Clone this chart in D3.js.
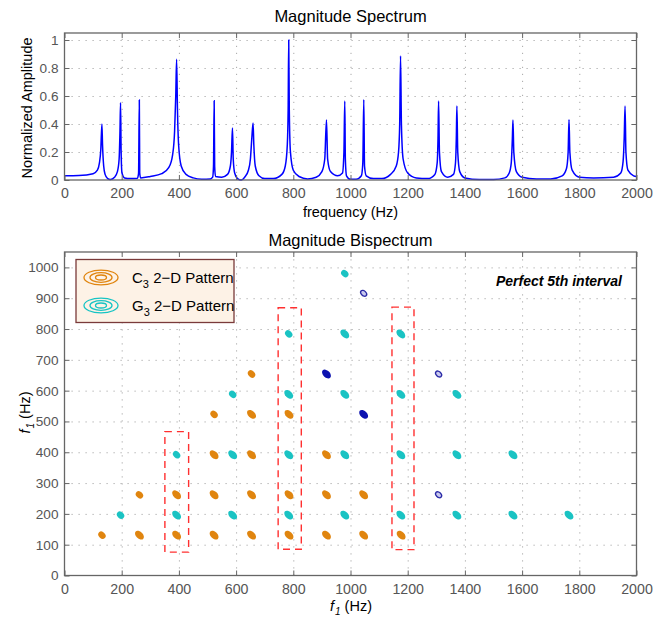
<!DOCTYPE html>
<html>
<head>
<meta charset="utf-8">
<script src="https://cdn.jsdelivr.net/npm/d3@7"></script>
<style>
  body { margin: 0; background: #fff; }
  svg { display: block; font-family: "Liberation Sans", Arial, sans-serif; }
  .grid line { stroke: #a8a8a8; stroke-dasharray: 1.2,5.8; }
  .grid path { display: none; }
  .frame path, .frame line { stroke: #666; }
</style>
</head>
<body>
<svg width="653" height="619"></svg>
<script>
// spectrum samples: [frequency Hz, normalized amplitude]
const spectrum = [
  [0, 0.03], [50, 0.032], [100, 0.045], [115, 0.07], [122, 0.12], [127, 0.22], [130.8, 0.40],
  [133, 0.25], [137, 0.1], [142, 0.04], [150, 0.012], [160, 0.003], [175, 0.02], [185, 0.06],
  [191, 0.15], [194, 0.35], [196, 0.552], [198, 0.2], [201, 0.05], [210, 0.015], [230, 0.01],
  [255, 0.012], [259, 0.05], [261.6, 0.571], [263, 0.05], [266, 0.015], [300, 0.025], [340, 0.045],
  [365, 0.09], [378, 0.18], [385, 0.35], [389, 0.6], [392, 0.862], [395, 0.5], [399, 0.25],
  [408, 0.1], [425, 0.04], [450, 0.015], [480, 0.005], [510, 0.008], [518, 0.02], [521, 0.1],
  [523.3, 0.566], [525, 0.1], [528, 0.025], [550, 0.02], [570, 0.04], [580, 0.1], [584, 0.2],
  [587.3, 0.371], [590, 0.15], [595, 0.05], [605, 0.01], [618, 0.0], [630, 0.02], [643, 0.07],
  [650, 0.15], [655, 0.3], [659.3, 0.407], [662, 0.25], [667, 0.1], [680, 0.03], [700, 0.01],
  [730, 0.01], [760, 0.04], [772, 0.1], [779, 0.25], [782, 0.5], [784, 1.0], [786, 0.5],
  [790, 0.2], [800, 0.07], [820, 0.025], [850, 0.008], [880, 0.02], [900, 0.06], [910, 0.15],
  [916, 0.429], [920, 0.15], [930, 0.06], [955, 0.03], [972, 0.05], [977, 0.2], [980, 0.564],
  [982, 0.15], [986, 0.03], [1000, 0.005], [1020, 0.005], [1038, 0.03], [1043, 0.12], [1046.5, 0.574],
  [1049, 0.1], [1055, 0.03], [1080, 0.01], [1110, 0.01], [1140, 0.04], [1160, 0.1], [1168, 0.2],
  [1172, 0.4], [1175, 0.886], [1178, 0.4], [1184, 0.15], [1200, 0.05], [1230, 0.015], [1270, 0.01],
  [1295, 0.04], [1303, 0.12], [1306, 0.3], [1308, 0.564], [1311, 0.2], [1318, 0.06], [1340, 0.02],
  [1360, 0.04], [1367, 0.12], [1370, 0.3], [1372, 0.529], [1375, 0.2], [1382, 0.06], [1400, 0.015],
  [1450, 0.003], [1500, 0.003], [1540, 0.015], [1555, 0.05], [1562, 0.12], [1566, 0.3], [1568, 0.429],
  [1571, 0.2], [1580, 0.06], [1600, 0.02], [1650, 0.008], [1700, 0.008], [1740, 0.03], [1755, 0.08],
  [1761, 0.2], [1764, 0.431], [1767, 0.2], [1775, 0.07], [1800, 0.02], [1850, 0.015], [1920, 0.02],
  [1945, 0.05], [1953, 0.13], [1957, 0.3], [1960, 0.529], [1963, 0.2], [1970, 0.07], [1990, 0.03],
  [2000, 0.025]
];

// bispectrum peaks [f1, f2] in Hz
const c3Peaks = [
  [131, 131], [262, 131], [262, 262], [392, 131], [392, 262], [523, 131], [523, 262], [523, 392],
  [523, 523], [654, 131], [654, 262], [654, 392], [654, 523], [654, 654], [785, 131], [785, 262],
  [785, 523], [916, 131], [916, 262], [916, 392], [1046, 131], [1046, 262], [1177, 131]
];
const g3Peaks = [
  [196, 196], [392, 196], [392, 392], [588, 196], [588, 392], [588, 588], [784, 196], [784, 392],
  [784, 588], [784, 784], [980, 196], [980, 392], [980, 588], [980, 784], [980, 980], [1176, 196],
  [1176, 392], [1176, 588], [1176, 784], [1372, 196], [1372, 392], [1372, 588], [1568, 196],
  [1568, 392], [1764, 196]
];
const crossPeaks = [[916, 654], [1046, 523]];
const ringPeaks = [[1308, 654], [1308, 262], [1046, 916]];

// dashed boxes [f1 from, f1 to, f2 from, f2 to]
const fifthBoxes = [[351, 434, 76, 467], [747, 828, 85, 869], [1145, 1222, 84, 871]];

const freqTicks = d3.range(0, 2001, 200);
const ampTicks = [0, 0.2, 0.4, 0.6, 0.8, 1];
const f2Ticks = d3.range(0, 1001, 100);

const legendItems = [
  { note: 'C', sub: '3', color: '#e0850f' },
  { note: 'G', sub: '3', color: '#17c4c4' }
];

const orange = '#e0850f';
const cyan = '#1ac3c3';
const navy = '#0c12b0';

const svg = d3.select('svg');
const left = 64.5, right = 636.5;

// ---------- top: magnitude spectrum ----------
const x1 = d3.scaleLinear().domain([0, 2000]).range([left, right]);
const y1 = d3.scaleLinear().domain([0, 1.05]).range([180, 33]);

function frame(x, y, xt, yt, top, bottom) {
  const g = svg.append('g');
  g.append('g').attr('class', 'grid')
    .attr('transform', `translate(0,${bottom})`)
    .call(d3.axisBottom(x).tickValues(xt.slice(1, -1)).tickSize(-(bottom - top)).tickFormat(''));
  g.append('g').attr('class', 'grid')
    .attr('transform', `translate(${left},0)`)
    .call(d3.axisLeft(y).tickValues(yt.slice(1)).tickSize(-(right - left)).tickFormat(''));
  return g;
}

function box(x, y, xt, yt, top, bottom, fmt) {
  const g = svg.append('g').attr('class', 'frame');
  g.append('rect')
    .attr('x', left).attr('y', top)
    .attr('width', right - left).attr('height', bottom - top)
    .attr('fill', 'none').attr('stroke', '#666').attr('stroke-width', 1.3);
  g.append('g')
    .attr('transform', `translate(0,${bottom})`)
    .call(d3.axisBottom(x).tickValues(xt).tickSize(-5).tickPadding(8).tickFormat(d3.format('d')))
    .call(a => a.select('.domain').remove())
    .call(a => a.selectAll('text').style('font-size', '14.2px'));
  g.append('g')
    .attr('transform', `translate(0,${top})`)
    .call(d3.axisTop(x).tickValues(xt).tickSize(-5).tickFormat(''))
    .call(a => a.select('.domain').remove());
  g.append('g')
    .attr('transform', `translate(${left},0)`)
    .call(d3.axisLeft(y).tickValues(yt).tickSize(-5).tickPadding(6).tickFormat(fmt))
    .call(a => a.select('.domain').remove())
    .call(a => a.selectAll('text').style('font-size', '13.6px'));
  g.append('g')
    .attr('transform', `translate(${right},0)`)
    .call(d3.axisRight(y).tickValues(yt).tickSize(-5).tickFormat(''))
    .call(a => a.select('.domain').remove());
  g.selectAll('.tick text')
    .attr('fill', '#555')
    .style('font-family', '"Liberation Sans", Arial, sans-serif');
}

frame(x1, y1, freqTicks, ampTicks, 33, 180);

const line = d3.line()
  .x(d => x1(d[0]))
  .y(d => y1(d[1]))
  .curve(d3.curveMonotoneX);

svg.append('path')
  .datum(spectrum)
  .attr('d', line)
  .attr('fill', 'none')
  .attr('stroke', '#0000ff')
  .attr('stroke-width', 1.5);

box(x1, y1, freqTicks, ampTicks, 33, 180, d => d === 0 || d === 1 ? d : d3.format('.1f')(d));

svg.append('text')
  .attr('x', (left + right) / 2).attr('y', 22)
  .attr('text-anchor', 'middle').style('font-size', '16.5px')
  .text('Magnitude Spectrum');
svg.append('text')
  .attr('x', (left + right) / 2).attr('y', 217)
  .attr('text-anchor', 'middle').style('font-size', '14.5px')
  .text('frequency (Hz)');
svg.append('text')
  .attr('transform', 'translate(32,108) rotate(-90)')
  .attr('text-anchor', 'middle').style('font-size', '14.5px')
  .text('Normalized Amplitude');

// ---------- bottom: magnitude bispectrum ----------
const x2 = d3.scaleLinear().domain([0, 2000]).range([left, right]);
const y2 = d3.scaleLinear().domain([0, 1050]).range([575.5, 252]);

frame(x2, y2, freqTicks, f2Ticks, 252, 575.5);

function blobs(data, cls, color) {
  svg.append('g').selectAll('ellipse.' + cls)
    .data(data)
    .join('ellipse')
      .attr('class', cls)
      .attr('transform', d => `translate(${x2(d[0])},${y2(d[1])}) rotate(45)`)
      .attr('rx', d => d[0] === d[1] ? 4.1 : 5.3)
      .attr('ry', d => d[0] === d[1] ? 3.2 : 3.4)
      .attr('fill', color);
}

blobs(c3Peaks, 'c3', orange);
blobs(g3Peaks, 'g3', cyan);
blobs(crossPeaks, 'cross', navy);

svg.append('g').selectAll('ellipse.ring')
  .data(ringPeaks)
  .join('ellipse')
    .attr('class', 'ring')
    .attr('transform', d => `translate(${x2(d[0])},${y2(d[1])}) rotate(45)`)
    .attr('rx', 3.5).attr('ry', 2.4)
    .attr('fill', '#c9c9ef')
    .attr('stroke', '#2a2aa6').attr('stroke-width', 1.3);

svg.append('g').selectAll('rect')
  .data(fifthBoxes)
  .join('rect')
    .attr('x', d => x2(d[0]))
    .attr('y', d => y2(d[3]))
    .attr('width', d => x2(d[1]) - x2(d[0]))
    .attr('height', d => y2(d[2]) - y2(d[3]))
    .attr('fill', 'none')
    .attr('stroke', '#ff3030')
    .attr('stroke-width', 1.4)
    .attr('stroke-dasharray', '7,5');

box(x2, y2, freqTicks, f2Ticks, 252, 575.5, d3.format('d'));

// legend
const lg = svg.append('g');
lg.append('rect')
  .attr('x', 76).attr('y', 259.5).attr('width', 158).attr('height', 63)
  .attr('fill', '#fdf2e6').attr('stroke', '#7a3a3a').attr('stroke-width', 1.3);
legendItems.forEach((it, i) => {
  const cy = 277.5 + i * 28;
  [[17, 7.4], [11, 4.8], [5.5, 2.5]].forEach(r => {
    lg.append('ellipse')
      .attr('cx', 101).attr('cy', cy).attr('rx', r[0]).attr('ry', r[1])
      .attr('fill', 'none').attr('stroke', it.color).attr('stroke-width', 1.3);
  });
  const t = lg.append('text').attr('x', 132).attr('y', cy + 5).style('font-size', '15px');
  t.append('tspan').text(it.note);
  t.append('tspan').attr('dy', 5).style('font-size', '11px').text(it.sub);
  t.append('tspan').attr('dy', -5).text(' 2\u2212D Pattern');
});

svg.append('text')
  .attr('x', 622).attr('y', 286)
  .attr('text-anchor', 'end')
  .style('font-size', '14px').style('font-weight', 'bold').style('font-style', 'italic')
  .text('Perfect 5th interval');

svg.append('text')
  .attr('x', (left + right) / 2).attr('y', 246)
  .attr('text-anchor', 'middle').style('font-size', '16.5px')
  .text('Magnitude Bispectrum');

// "f1 (Hz)" built from separate pieces, centred on (0,0) of the group
function f1Label(g) {
  const parts = [
    { s: 'f', size: 14.5, italic: true, dy: 0 },
    { s: '1', size: 10, italic: true, dy: 4 },
    { s: '\u00a0(Hz)', size: 14.5, italic: false, dy: 0 }
  ];
  const texts = parts.map(p => g.append('text')
    .attr('y', p.dy)
    .style('font-size', p.size + 'px')
    .style('font-style', p.italic ? 'italic' : 'normal')
    .text(p.s));
  const widths = texts.map(t => t.node().getComputedTextLength());
  let xPos = -d3.sum(widths) / 2;
  texts.forEach((t, i) => { t.attr('x', xPos); xPos += widths[i] + (i === 0 ? 1 : 0); });
}
svg.append('g')
  .attr('transform', `translate(${(left + right) / 2},611)`)
  .call(f1Label);
svg.append('g')
  .attr('transform', 'translate(30,413) rotate(-90)')
  .call(f1Label);
</script>
</body>
</html>
